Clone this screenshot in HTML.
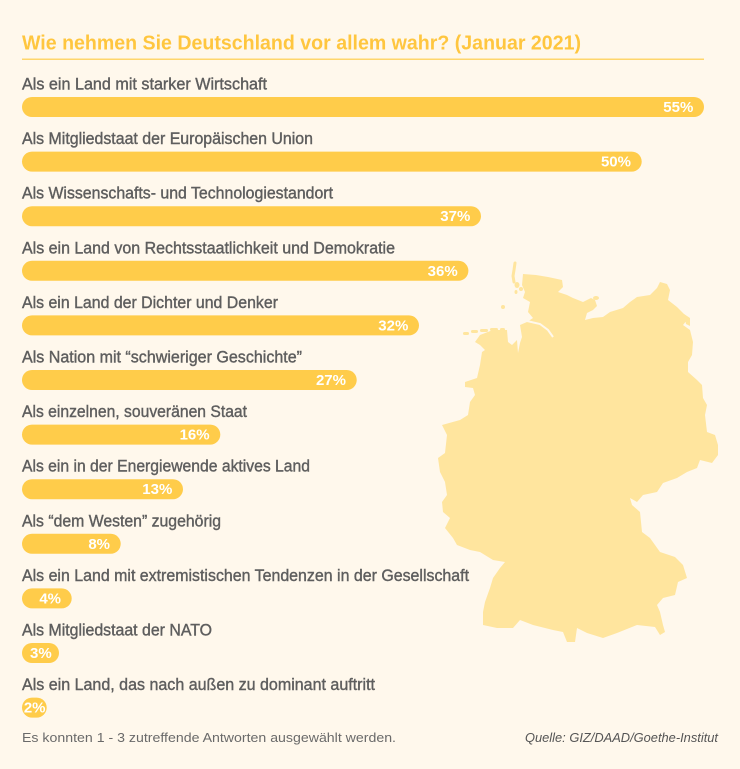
<!DOCTYPE html>
<html>
<head>
<meta charset="utf-8">
<style>
  html,body{margin:0;padding:0;background:#FFF8EC;}
  body{width:740px;height:769px;overflow:hidden;}
  svg{display:block;}
  .lbl{font-family:"Liberation Sans",Arial,sans-serif;font-size:16.5px;fill:#5e5e5e;stroke:#5e5e5e;stroke-width:0.4px;}
  .pct{font-family:"Liberation Sans",Arial,sans-serif;font-size:15px;font-weight:bold;fill:#ffffff;}
</style>
</head>
<body>
<svg width="740" height="769" viewBox="0 0 740 769" xmlns="http://www.w3.org/2000/svg">
  <rect x="0" y="0" width="740" height="769" fill="#FFF8EC"/>

  <!-- Map of Germany -->
  <g fill="#FFE59E">
    <polygon points="523,274 536,275 548,277 562,280 563,287 558,292 567,295 573,298 583,302 591,298 595,300 597,306 593,310 587,313 585,320 593,318 603,317 610,312 623,308 630,302 637,297 650,295 657,288 660,282 667,284 670,290 668,300 677,307 685,315 687,320 683,325 690,330 693,342 692,355 688,362 688,372 697,380 702,385 703,398 707,405 705,415 707,432 715,435 718,445 718,455 712,463 700,460 697,468 687,472 677,478 663,483 657,492 643,495 637,502 630,498 632,505 640,512 642,532 650,538 660,552 675,557 683,565 687,578 678,582 675,595 663,598 657,605 660,612 663,625 665,632 660,635 655,627 637,625 617,633 603,638 587,633 577,628 575,642 567,642 563,632 553,630 533,625 520,620 513,628 497,628 483,625 483,612 485,602 490,588 493,578 500,568 505,562 493,560 480,552 470,550 457,545 453,538 445,528 450,518 443,512 442,502 447,495 445,482 440,472 438,458 445,453 447,435 442,425 460,420 468,415 470,402 475,395 473,388 465,387 465,382 477,378 480,365 482,352 485,350 480,345 475,342 480,335 493,330 507,330 508,342 512,345 517,340 518,353 520,343 522,337 520,325 527,322 533,318 528,312 530,302 523,298 525,292 522,285 523,274"/>
    <polyline points="515,263 514,270 513,276 514,282" fill="none" stroke="#FFE59E" stroke-width="3" stroke-linecap="round"/>
    <ellipse cx="517" cy="285" rx="2.5" ry="3"/>
    <ellipse cx="521" cy="289" rx="2" ry="2"/>
    <ellipse cx="516" cy="292" rx="1.5" ry="2"/>
    <circle cx="503" cy="307" r="2"/>
    <rect x="463" y="332" width="6" height="3" rx="1.5"/>
    <rect x="471" y="330" width="7" height="3" rx="1.5"/>
    <rect x="480" y="329" width="8" height="3" rx="1.5"/>
    <rect x="490" y="328" width="8" height="3" rx="1.5"/>
    <rect x="500" y="328" width="5" height="3" rx="1.5"/>
    <ellipse cx="596" cy="298" rx="3" ry="2"/>
    <polygon points="684,314 690,318 690,326 686,324"/>
  </g>
  <polyline points="527,321 540,324 548,330 553,337" fill="none" stroke="#FFF8EC" stroke-width="2"/>
  <polyline points="565,288 560,292" fill="none" stroke="#FFF8EC" stroke-width="1.5"/>

  <!-- Title -->
  <text x="22" y="49.5" font-family="Liberation Sans, Arial, sans-serif" font-size="20" font-weight="bold" fill="#FFC63F" textLength="559" lengthAdjust="spacingAndGlyphs">Wie nehmen Sie Deutschland vor allem wahr? (Januar 2021)</text>
  <rect x="22" y="58.5" width="682" height="1.5" fill="#FFD66B"/>

  <!-- Bars -->
  <g fill="#FFCC4A">
    <rect x="22" y="97" width="682" height="20" rx="10"/>
    <rect x="22" y="151.6" width="619.7" height="20" rx="10"/>
    <rect x="22" y="206.2" width="459" height="20" rx="10"/>
    <rect x="22" y="260.8" width="446.4" height="20" rx="10"/>
    <rect x="22" y="315.4" width="397" height="20" rx="10"/>
    <rect x="22" y="370" width="334.7" height="20" rx="10"/>
    <rect x="22" y="424.6" width="198.3" height="20" rx="10"/>
    <rect x="22" y="479.2" width="161" height="20" rx="10"/>
    <rect x="22" y="533.8" width="98.7" height="20" rx="10"/>
    <rect x="22" y="588.4" width="49.7" height="20" rx="10"/>
    <rect x="22" y="643" width="37" height="20" rx="10"/>
    <rect x="22" y="697.6" width="24.7" height="20" rx="10"/>
  </g>

  <!-- Labels -->
  <text class="lbl" x="22" y="89.5" textLength="245" lengthAdjust="spacingAndGlyphs">Als ein Land mit starker Wirtschaft</text>
  <text class="lbl" x="22" y="144.1" textLength="291" lengthAdjust="spacingAndGlyphs">Als Mitgliedstaat der Europäischen Union</text>
  <text class="lbl" x="22" y="198.7" textLength="311" lengthAdjust="spacingAndGlyphs">Als Wissenschafts- und Technologiestandort</text>
  <text class="lbl" x="22" y="253.3" textLength="373" lengthAdjust="spacingAndGlyphs">Als ein Land von Rechtsstaatlichkeit und Demokratie</text>
  <text class="lbl" x="22" y="307.9" textLength="256" lengthAdjust="spacingAndGlyphs">Als ein Land der Dichter und Denker</text>
  <text class="lbl" x="22" y="362.5" textLength="280" lengthAdjust="spacingAndGlyphs">Als Nation mit “schwieriger Geschichte”</text>
  <text class="lbl" x="22" y="417.1" textLength="225" lengthAdjust="spacingAndGlyphs">Als einzelnen, souveränen Staat</text>
  <text class="lbl" x="22" y="471.7" textLength="288" lengthAdjust="spacingAndGlyphs">Als ein in der Energiewende aktives Land</text>
  <text class="lbl" x="22" y="526.3" textLength="199" lengthAdjust="spacingAndGlyphs">Als “dem Westen” zugehörig</text>
  <text class="lbl" x="22" y="580.9" textLength="447" lengthAdjust="spacingAndGlyphs">Als ein Land mit extremistischen Tendenzen in der Gesellschaft</text>
  <text class="lbl" x="22" y="635.5" textLength="190" lengthAdjust="spacingAndGlyphs">Als Mitgliedstaat der NATO</text>
  <text class="lbl" x="22" y="690.1" textLength="353" lengthAdjust="spacingAndGlyphs">Als ein Land, das nach außen zu dominant auftritt</text>

  <!-- Percent values -->
  <g class="pct" text-anchor="end">
    <text x="693.3" y="112">55%</text>
    <text x="631" y="166.6">50%</text>
    <text x="470.3" y="221.2">37%</text>
    <text x="457.7" y="275.8">36%</text>
    <text x="408.3" y="330.4">32%</text>
    <text x="346" y="385">27%</text>
    <text x="209.6" y="439.6">16%</text>
    <text x="172.3" y="494.2">13%</text>
    <text x="110" y="548.8">8%</text>
    <text x="61" y="603.4">4%</text>
    <text x="51.7" y="658">3%</text>
    <text x="45.5" y="712.6">2%</text>
  </g>

  <!-- Footer -->
  <text x="22" y="742" font-family="Liberation Sans, Arial, sans-serif" font-size="13" fill="#6a6a6a" textLength="374" lengthAdjust="spacingAndGlyphs">Es konnten 1 - 3 zutreffende Antworten ausgewählt werden.</text>
  <text x="525" y="742" font-family="Liberation Sans, Arial, sans-serif" font-size="13" font-style="italic" fill="#555555" textLength="193" lengthAdjust="spacingAndGlyphs">Quelle: GIZ/DAAD/Goethe-Institut</text>
</svg>
</body>
</html>
